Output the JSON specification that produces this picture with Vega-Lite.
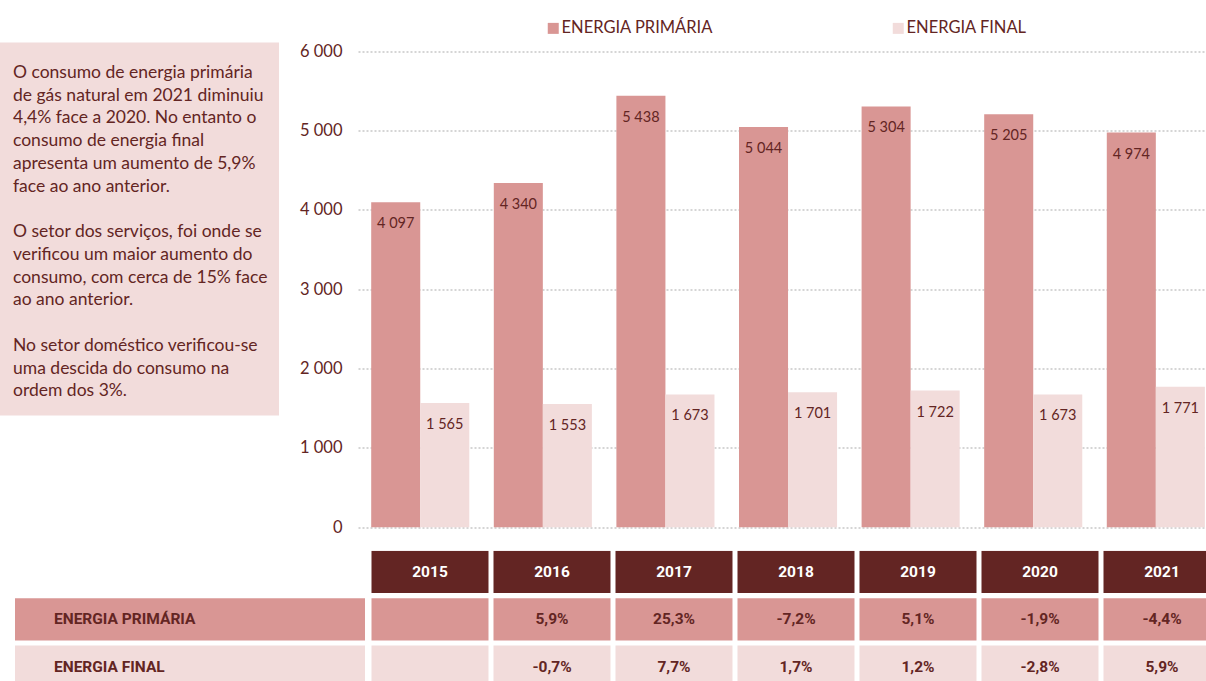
{
  "$schema": "https://vega.github.io/schema/vega-lite/v6.json",
  "padding": {"left": 0, "top": 19.5, "right": 0, "bottom": 0},
  "background": "white",
  "bounds": "flush",
  "align": "each",
  "columns": 2,
  "spacing": {"row": 23.3, "column": 0},
  "config": {
    "view": {"stroke": null},
    "font": "Lato",
    "locale": {"number": {"decimal": ",", "thousands": " ", "grouping": [3], "currency": ["", " €"], "minus": "-"}}
  },
  "datasets": {
    "energy": [
      {"year": "2015", "series": "ENERGIA PRIMÁRIA", "value": 4097, "change": null},
      {"year": "2015", "series": "ENERGIA FINAL", "value": 1565, "change": null},
      {"year": "2016", "series": "ENERGIA PRIMÁRIA", "value": 4340, "change": 0.059},
      {"year": "2016", "series": "ENERGIA FINAL", "value": 1553, "change": -0.007},
      {"year": "2017", "series": "ENERGIA PRIMÁRIA", "value": 5438, "change": 0.253},
      {"year": "2017", "series": "ENERGIA FINAL", "value": 1673, "change": 0.077},
      {"year": "2018", "series": "ENERGIA PRIMÁRIA", "value": 5044, "change": -0.072},
      {"year": "2018", "series": "ENERGIA FINAL", "value": 1701, "change": 0.017},
      {"year": "2019", "series": "ENERGIA PRIMÁRIA", "value": 5304, "change": 0.051},
      {"year": "2019", "series": "ENERGIA FINAL", "value": 1722, "change": 0.012},
      {"year": "2020", "series": "ENERGIA PRIMÁRIA", "value": 5205, "change": -0.019},
      {"year": "2020", "series": "ENERGIA FINAL", "value": 1673, "change": -0.028},
      {"year": "2021", "series": "ENERGIA PRIMÁRIA", "value": 4974, "change": -0.044},
      {"year": "2021", "series": "ENERGIA FINAL", "value": 1771, "change": 0.059}
    ],
    "notes": [
      {"line": 1, "text": "O consumo de energia primária"},
      {"line": 2, "text": "de gás natural em 2021 diminuiu"},
      {"line": 3, "text": "4,4% face a 2020. No entanto o"},
      {"line": 4, "text": "consumo de energia final"},
      {"line": 5, "text": "apresenta um aumento de 5,9%"},
      {"line": 6, "text": "face ao ano anterior."},
      {"line": 8, "text": "O setor dos serviços, foi onde se"},
      {"line": 9, "text": "verificou um maior aumento do"},
      {"line": 10, "text": "consumo, com cerca de 15% face"},
      {"line": 11, "text": "ao ano anterior."},
      {"line": 13, "text": "No setor doméstico verificou-se"},
      {"line": 14, "text": "uma descida do consumo na"},
      {"line": 15, "text": "ordem dos 3%."}
    ]
  },
  "concat": [
    {
      "width": 279,
      "height": 373,
      "view": {"fill": "#F2DCDB", "stroke": null},
      "data": {"name": "notes"},
      "mark": {"type": "text", "align": "left", "baseline": "middle", "font": "Lato", "fontSize": 17.5, "color": "#632523", "dx": 13},
      "encoding": {
        "x": {"datum": 0, "type": "quantitative", "scale": {"domain": [0, 1], "nice": false, "zero": false}, "axis": null},
        "y": {"field": "line", "type": "quantitative", "scale": {"domain": [-0.33, 16.06], "reverse": true, "zero": false, "nice": false}, "axis": null},
        "text": {"field": "text", "type": "nominal"}
      }
    },
    {
      "width": 848.5,
      "height": 484.7,
      "data": {"name": "energy"},
      "encoding": {
        "x": {"field": "year", "type": "nominal", "axis": null, "scale": {"paddingInner": 0.2, "paddingOuter": 0.0605, "align": 0.89}},
        "xOffset": {"field": "series", "type": "nominal", "sort": ["ENERGIA PRIMÁRIA", "ENERGIA FINAL"], "scale": {"paddingInner": 0, "paddingOuter": 0}},
        "y": {
          "field": "value", "type": "quantitative",
          "scale": {"domain": [0, 6110], "nice": false, "zero": true},
          "axis": {
            "values": [0, 1000, 2000, 3000, 4000, 5000, 6000],
            "format": ",.0f",
            "title": null,
            "grid": true, "gridColor": "#ABABAB", "gridDash": [2, 2], "gridWidth": 1,
            "ticks": false, "domain": false,
            "labelFont": "Lato", "labelFontSize": 16.5, "labelColor": "#632523", "labelPadding": 16
          }
        }
      },
      "layer": [
        {
          "mark": {"type": "bar"},
          "encoding": {
            "color": {
              "field": "series", "type": "nominal",
              "scale": {"domain": ["ENERGIA PRIMÁRIA", "ENERGIA FINAL"], "range": ["#D99694", "#F2DCDB"]},
              "legend": {"title": null, "orient": "none", "legendX": 545, "legendY": -22.5, "direction": "horizontal", "symbolType": "square", "symbolSize": 121, "symbolStrokeWidth": 0, "labelFont": "Lato", "labelFontSize": 16.5, "labelColor": "#632523", "labelOffset": 0, "columnPadding": 177, "padding": 0}
            }
          }
        },
        {
          "mark": {"type": "text", "baseline": "middle", "dy": 22, "font": "Lato", "fontSize": 14.5, "color": "#632523"},
          "encoding": {"text": {"field": "value", "type": "quantitative", "format": ",.0f"}}
        }
      ]
    },
    {
      "width": 357.5,
      "height": 131,
      "data": {"name": "energy"},
      "transform": [{"filter": "datum.year == '2015'"}],
      "encoding": {
        "y": {"field": "series", "type": "nominal", "axis": null, "scale": {"domain": ["header", "ENERGIA PRIMÁRIA", "ENERGIA FINAL"], "range": [0, 137], "paddingInner": 0.11, "paddingOuter": 0}}
      },
      "layer": [
        {
          "mark": {"type": "rect"},
          "encoding": {
            "x": {"datum": "label", "type": "nominal", "axis": null, "scale": {"domain": ["label"], "range": [15, 365], "paddingInner": 0, "paddingOuter": 0}},
            "color": {
              "field": "series", "type": "nominal",
              "scale": {"domain": ["ENERGIA PRIMÁRIA", "ENERGIA FINAL"], "range": ["#D99694", "#F2DCDB"]},
              "legend": {"title": null, "orient": "none", "legendX": 545, "legendY": -22.5, "direction": "horizontal", "symbolType": "square", "symbolSize": 121, "symbolStrokeWidth": 0, "labelFont": "Lato", "labelFontSize": 16.5, "labelColor": "#632523", "labelOffset": 0, "columnPadding": 177, "padding": 0}
            }
          }
        },
        {
          "mark": {"type": "text", "align": "left", "baseline": "middle", "dx": 39, "font": "Roboto", "fontWeight": "bold", "fontSize": 15.5, "color": "#632523"},
          "encoding": {
            "x": {"datum": "label", "type": "nominal", "bandPosition": 0, "axis": null},
            "text": {"field": "series", "type": "nominal"}
          }
        }
      ]
    },
    {
      "width": 848.5,
      "height": 131,
      "data": {"name": "energy"},
      "encoding": {
        "x": {"field": "year", "type": "nominal", "axis": null, "scale": {"range": [13.5, 862.5], "paddingInner": 0.041, "paddingOuter": 0}}
      },
      "layer": [
        {
          "transform": [{"filter": "datum.series == 'ENERGIA PRIMÁRIA'"}],
          "mark": {"type": "rect", "color": "#632523", "clip": true},
          "encoding": {
            "y": {"datum": "header", "type": "nominal", "axis": null, "scale": {"domain": ["header", "ENERGIA PRIMÁRIA", "ENERGIA FINAL"], "range": [0, 137], "paddingInner": 0.11, "paddingOuter": 0}}
          }
        },
        {
          "transform": [{"filter": "datum.series == 'ENERGIA PRIMÁRIA'"}],
          "mark": {"type": "text", "baseline": "middle", "font": "Roboto", "fontWeight": "bold", "fontSize": 15.5, "color": "white", "clip": true},
          "encoding": {
            "y": {"datum": "header", "type": "nominal", "axis": null},
            "text": {"field": "year", "type": "nominal"}
          }
        },
        {
          "mark": {"type": "rect", "clip": true},
          "encoding": {
            "y": {"field": "series", "type": "nominal", "axis": null},
            "color": {
              "field": "series", "type": "nominal",
              "scale": {"domain": ["ENERGIA PRIMÁRIA", "ENERGIA FINAL"], "range": ["#D99694", "#F2DCDB"]},
              "legend": {"title": null, "orient": "none", "legendX": 545, "legendY": -22.5, "direction": "horizontal", "symbolType": "square", "symbolSize": 121, "symbolStrokeWidth": 0, "labelFont": "Lato", "labelFontSize": 16.5, "labelColor": "#632523", "labelOffset": 0, "columnPadding": 177, "padding": 0}
            }
          }
        },
        {
          "transform": [{"filter": "isValid(datum.change)"}],
          "mark": {"type": "text", "baseline": "middle", "font": "Roboto", "fontWeight": "bold", "fontSize": 15.5, "color": "#632523", "clip": true},
          "encoding": {
            "y": {"field": "series", "type": "nominal", "axis": null},
            "text": {"field": "change", "type": "quantitative", "format": ".1%"}
          }
        }
      ]
    }
  ]
}
